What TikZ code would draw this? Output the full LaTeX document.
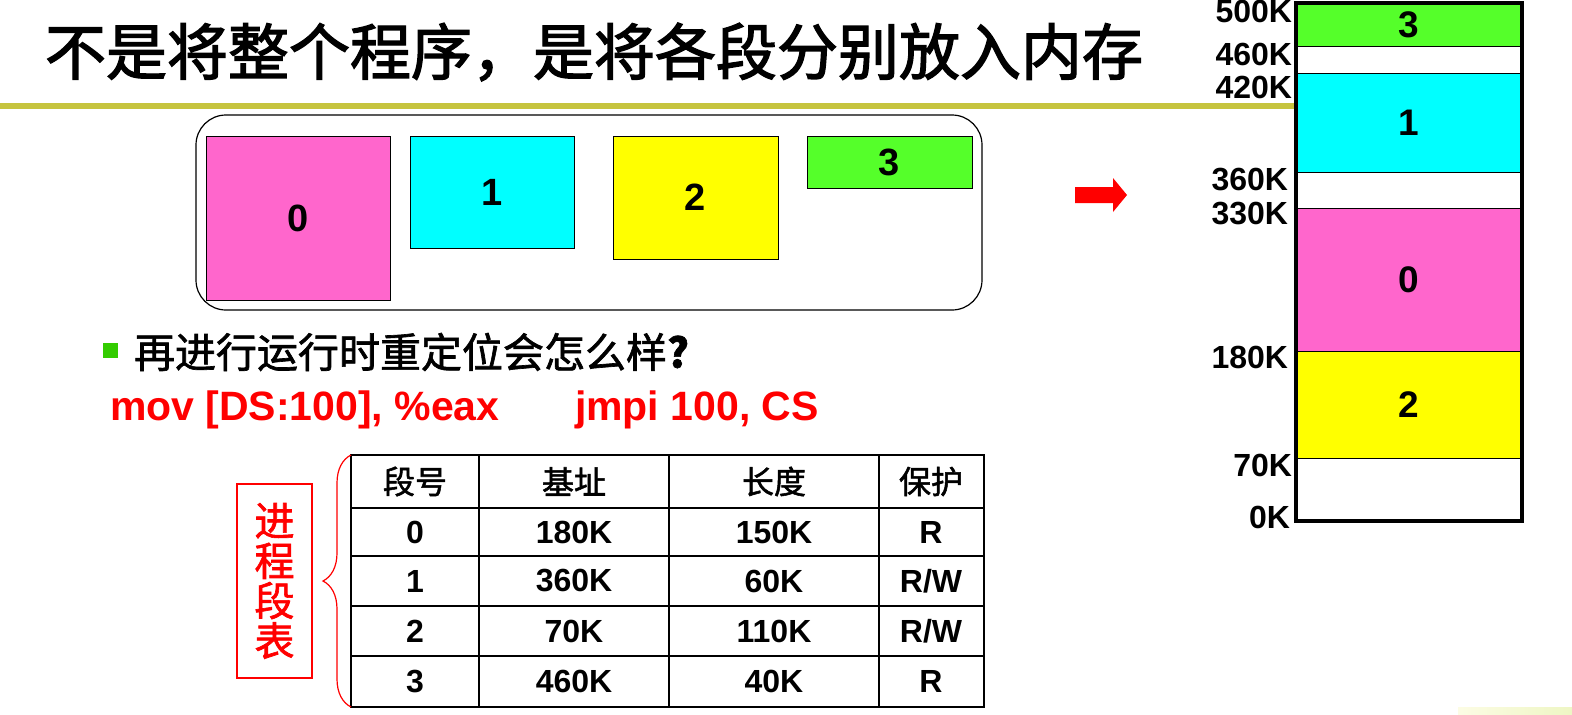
\documentclass[tikz,border=0pt]{standalone}
\usepackage{fontspec}
\setmainfont{Liberation Sans}
\newfontfamily\cjk{Noto Sans CJK SC}
\newfontfamily\cjkmed[FakeBold=1.6]{Noto Sans CJK SC}
\newfontfamily\cjktitle[FakeBold=2.2]{Noto Sans CJK SC}
\usetikzlibrary{decorations.pathreplacing}
\newcommand\setfs[1]{\fontsize{#1}{#1}\selectfont}
\definecolor{segpink}{RGB}{255,102,204}
\definecolor{segcyan}{RGB}{0,255,255}
\definecolor{segyellow}{RGB}{255,255,0}
\definecolor{seggreen}{RGB}{85,255,42}
\definecolor{olive}{RGB}{198,196,62}
\definecolor{bulletgreen}{RGB}{51,204,0}
\definecolor{redtxt}{RGB}{255,0,0}
\begin{document}
\begin{tikzpicture}[x=1pt,y=-1pt,
  every node/.style={inner sep=0pt, outer sep=0pt},
  progbox/.style={draw, line width=1pt, font=\bfseries\setfs{38}},
  seg/.style={draw, line width=1pt, minimum width=226pt, font=\bfseries\setfs{37}},
  addr/.style={anchor=east, font=\bfseries\setfs{32}},
  cellhead/.style={font=\cjkmed\setfs{32}},
  celldata/.style={font=\bfseries\setfs{32}}
]
\useasboundingbox (0,0) rectangle (1572,715);

% faint decoration bottom right
\shade[left color={rgb,255:red,252;green,252;blue,228}, right color={rgb,255:red,238;green,246;blue,196}]
  (1458,707) rectangle (1572,715);

% title
\node[anchor=west, font=\cjktitle\setfs{61}] (title) at (45,52) {不是将整个程序，是将各段分别放入内存};

% olive rule
\coordinate (ruleL) at (0,106);
\coordinate (ruleR) at (1296,106);
\draw[olive, line width=6pt] (ruleL) -- (ruleR);

% program box
\node[draw, line width=1.2pt, rounded corners=30pt, minimum width=786pt, minimum height=195pt] (prog) at (589,212.5) {};
\node[progbox, fill=segpink, minimum width=184pt, minimum height=164pt] (p0) at (298,218) {\raisebox{-4pt}{0}};
\node[progbox, fill=segcyan, minimum width=164pt, minimum height=112pt] (p1) at (492,192) {1};
\node[progbox, fill=segyellow, minimum width=165pt, minimum height=123pt] (p2) at (695.5,197.5) {2};
\node[progbox, fill=seggreen, minimum width=165pt, minimum height=52pt] (p3) at (889.5,162) {3};

% red block arrow
\fill[redtxt] (1075,187) -- (1113,187) -- (1113,178) -- (1127,195) -- (1113,212) -- (1113,203) -- (1075,203) -- cycle;

% memory
\node[seg, fill=seggreen, minimum height=43pt] (m3) at (1409,24.5) {\raisebox{-2pt}{3}};
\node[seg, fill=white, minimum height=27pt] (f1) at (1409,59.5) {};
\node[seg, fill=segcyan, minimum height=99pt] (m1) at (1409,122.5) {\raisebox{-2pt}{1}};
\node[seg, fill=white, minimum height=36pt] (f2) at (1409,190) {};
\node[seg, fill=segpink, minimum height=143pt] (m0) at (1409,279.5) {\raisebox{-3pt}{0}};
\node[seg, fill=segyellow, minimum height=107pt] (m2) at (1409,404.5) {2};
\node[seg, fill=white, minimum height=63pt] (f3) at (1409,489.5) {};
\draw[line width=4pt] (m3.north west) rectangle (f3.south east);

\node[addr] (a500) at (1292,11) {500K};
\node[addr] (a460) at (1292,54) {460K};
\node[addr] (a420) at (1292,87) {420K};
\node[addr] (a360) at (1288,180) {360K};
\node[addr] (a330) at (1288,214) {330K};
\node[addr] (a180) at (1288,357) {180K};
\node[addr] (a70) at (1292,465) {70K};
\node[addr] (a0) at (1290,517) {0K};

% bullet line
\fill[bulletgreen] (103,343) rectangle (118,358);
\node[anchor=west, font=\cjkmed\setfs{41}] (q) at (134,352) {再进行运行时重定位会怎么样\textbf{?}};

% code line
\node[anchor=west, font=\bfseries\setfs{41}, text=redtxt] (c1) at (110,410) {mov [DS:100], \%eax};
\node[anchor=west, font=\bfseries\setfs{41}, text=redtxt] (c2) at (575,410) {jmpi 100, CS};

% table
\node[draw, line width=2pt, minimum width=633pt, minimum height=252pt] (tbl) at (667.5,581) {};
\foreach \xx in {479,669,879} \draw[line width=2pt] (\xx,455) -- (\xx,707);
\foreach \yy in {508,556,606,656} \draw[line width=2pt] (351,\yy) -- (984,\yy);

\node[cellhead] (h1) at (415,481.5) {段号};
\node[cellhead] (h2) at (574,481.5) {基址};
\node[cellhead] (h3) at (774,481.5) {长度};
\node[cellhead] (h4) at (931,481.5) {保护};

\node[celldata] (r0a) at (415,532) {0};
\node[celldata] (r0b) at (574,532) {180K};
\node[celldata] (r0c) at (774,532) {150K};
\node[celldata] (r0d) at (931,532) {R};
\node[celldata] (r1a) at (415,581) {1};
\node[celldata] (r1b) at (574,581) {360K};
\node[celldata] (r1c) at (774,581) {60K};
\node[celldata] (r1d) at (931,581) {R/W};
\node[celldata] (r2a) at (415,631) {2};
\node[celldata] (r2b) at (574,631) {70K};
\node[celldata] (r2c) at (774,631) {110K};
\node[celldata] (r2d) at (931,631) {R/W};
\node[celldata] (r3a) at (415,681.5) {3};
\node[celldata] (r3b) at (574,681.5) {460K};
\node[celldata] (r3c) at (774,681.5) {40K};
\node[celldata] (r3d) at (931,681.5) {R};

% brace and label
\draw[redtxt, line width=1.2pt, decorate, decoration={brace, amplitude=28pt}] (tbl.south west) -- (tbl.north west);
\node[draw=redtxt, line width=1.2pt, minimum width=75pt, minimum height=194pt, text=redtxt, align=center, font=\cjkmed\setfs{40}] (lbl) at (274.5,581)
  {\fontsize{40}{41}\selectfont 进\\程\\段\\表};
\end{tikzpicture}
\end{document}
